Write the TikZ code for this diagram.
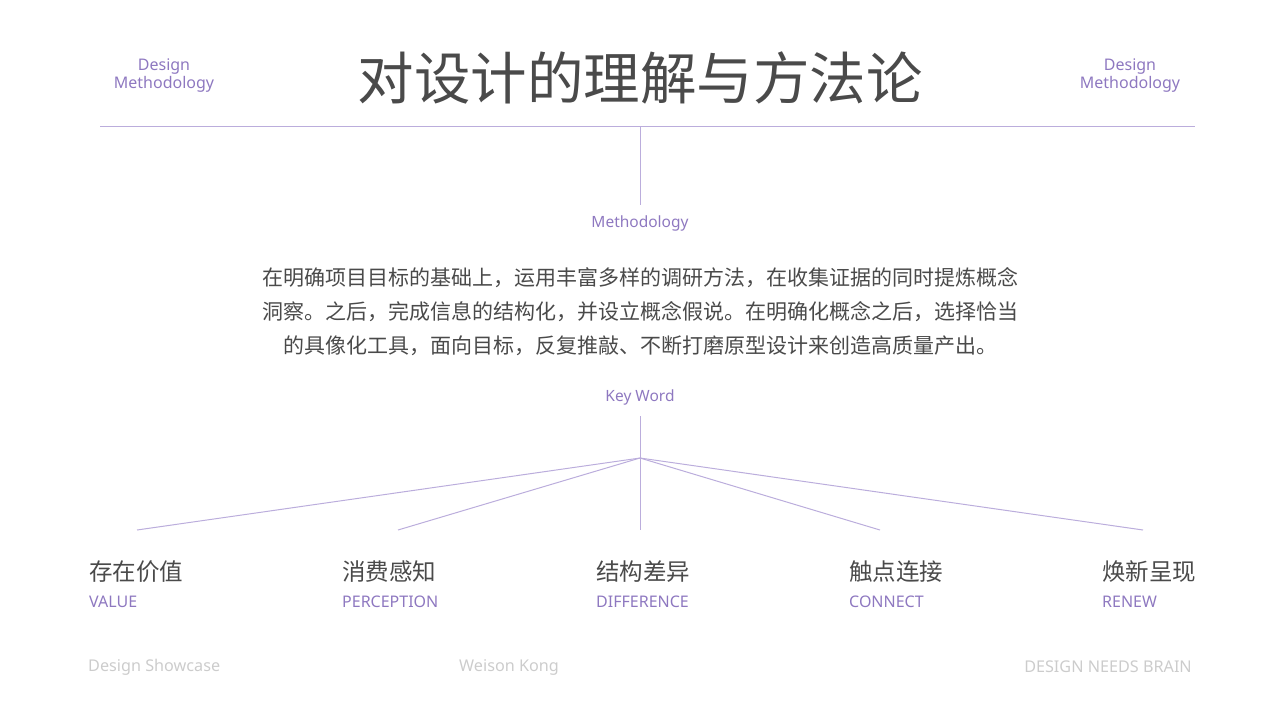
\documentclass[tikz,border=0pt]{standalone}
\usepackage{fontspec}
\setmainfont{Noto Sans}
\newfontfamily\cjk{Noto Sans CJK SC}
\definecolor{pur}{HTML}{8E78C0}
\definecolor{ln}{HTML}{BBADDC}
\definecolor{tx}{HTML}{4A4A4A}
\definecolor{ft}{HTML}{CCCCCC}
\begin{document}
\begin{tikzpicture}[x=1pt,y=-1pt,
  lbl/.style={text=pur,font=\fontsize{15.5}{17}\selectfont,inner sep=0},
  kw/.style={anchor=west,text=tx,font=\cjk\fontsize{23.5}{26}\selectfont,inner sep=0},
  en/.style={anchor=west,text=pur,font=\fontsize{16}{18}\selectfont,inner sep=0},
  foot/.style={text=ft,font=\fontsize{16.2}{18}\selectfont,inner sep=0},
  conn/.style={draw=ln,line width=1pt}]
\useasboundingbox (0,0) rectangle (1280,720);
\node[text=tx,font=\cjk\fontsize{56.5}{60}\selectfont,inner sep=0] (title) at (640,78) {对设计的理解与方法论};
\node[lbl,align=center,font=\fontsize{16}{18}\selectfont] (tl) at (164,76) {Design\\Methodology};
\node[lbl,align=center,font=\fontsize{16}{18}\selectfont] (tr) at (1130,76) {Design\\Methodology};
\coordinate (hl) at (100,126); \coordinate (hr) at (1195,126);
\coordinate (hm) at (640,126); \coordinate (v1) at (640,205);
\draw[conn] (hl) -- (hr);
\draw[conn] (hm) -- (v1);
\node[lbl] (meth) at (640,223) {Methodology};
\node[text=tx,font=\cjk\fontsize{21}{34}\selectfont,align=center,inner sep=0] (para) at (640,312)
 {在明确项目目标的基础上，运用丰富多样的调研方法，在收集证据的同时提炼概念\\
  洞察。之后，完成信息的结构化，并设立概念假说。在明确化概念之后，选择恰当\\
  的具像化工具，面向目标，反复推敲、不断打磨原型设计来创造高质量产出。};
\node[lbl] (key) at (640,397) {Key Word};
\coordinate (k1) at (640,416); \coordinate (hub) at (640,458); \coordinate (k2) at (640,530);
\coordinate (e1) at (137,530); \coordinate (e2) at (398,530);
\coordinate (e4) at (880,530); \coordinate (e5) at (1143,530);
\draw[conn] (k1) -- (k2);
\draw[conn] (hub) -- (e1); \draw[conn] (hub) -- (e2);
\draw[conn] (hub) -- (e4); \draw[conn] (hub) -- (e5);
\node[kw] (w1) at (89,572) {存在价值};
\node[kw] (w2) at (342,572) {消费感知};
\node[kw] (w3) at (596,572) {结构差异};
\node[kw] (w4) at (849,572) {触点连接};
\node[kw] (w5) at (1102,572) {焕新呈现};
\node[en] (n1) at (89,602) {VALUE};
\node[en] (n2) at (342,602) {PERCEPTION};
\node[en] (n3) at (596,602) {DIFFERENCE};
\node[en] (n4) at (849,602) {CONNECT};
\node[en] (n5) at (1102,602) {RENEW};
\node[foot,anchor=west] (f1) at (88,667) {Design Showcase};
\node[foot,anchor=west] (f2) at (459,667) {Weison Kong};
\node[foot,anchor=east] (f3) at (1192,667) {DESIGN NEEDS BRAIN};
\end{tikzpicture}
\end{document}
